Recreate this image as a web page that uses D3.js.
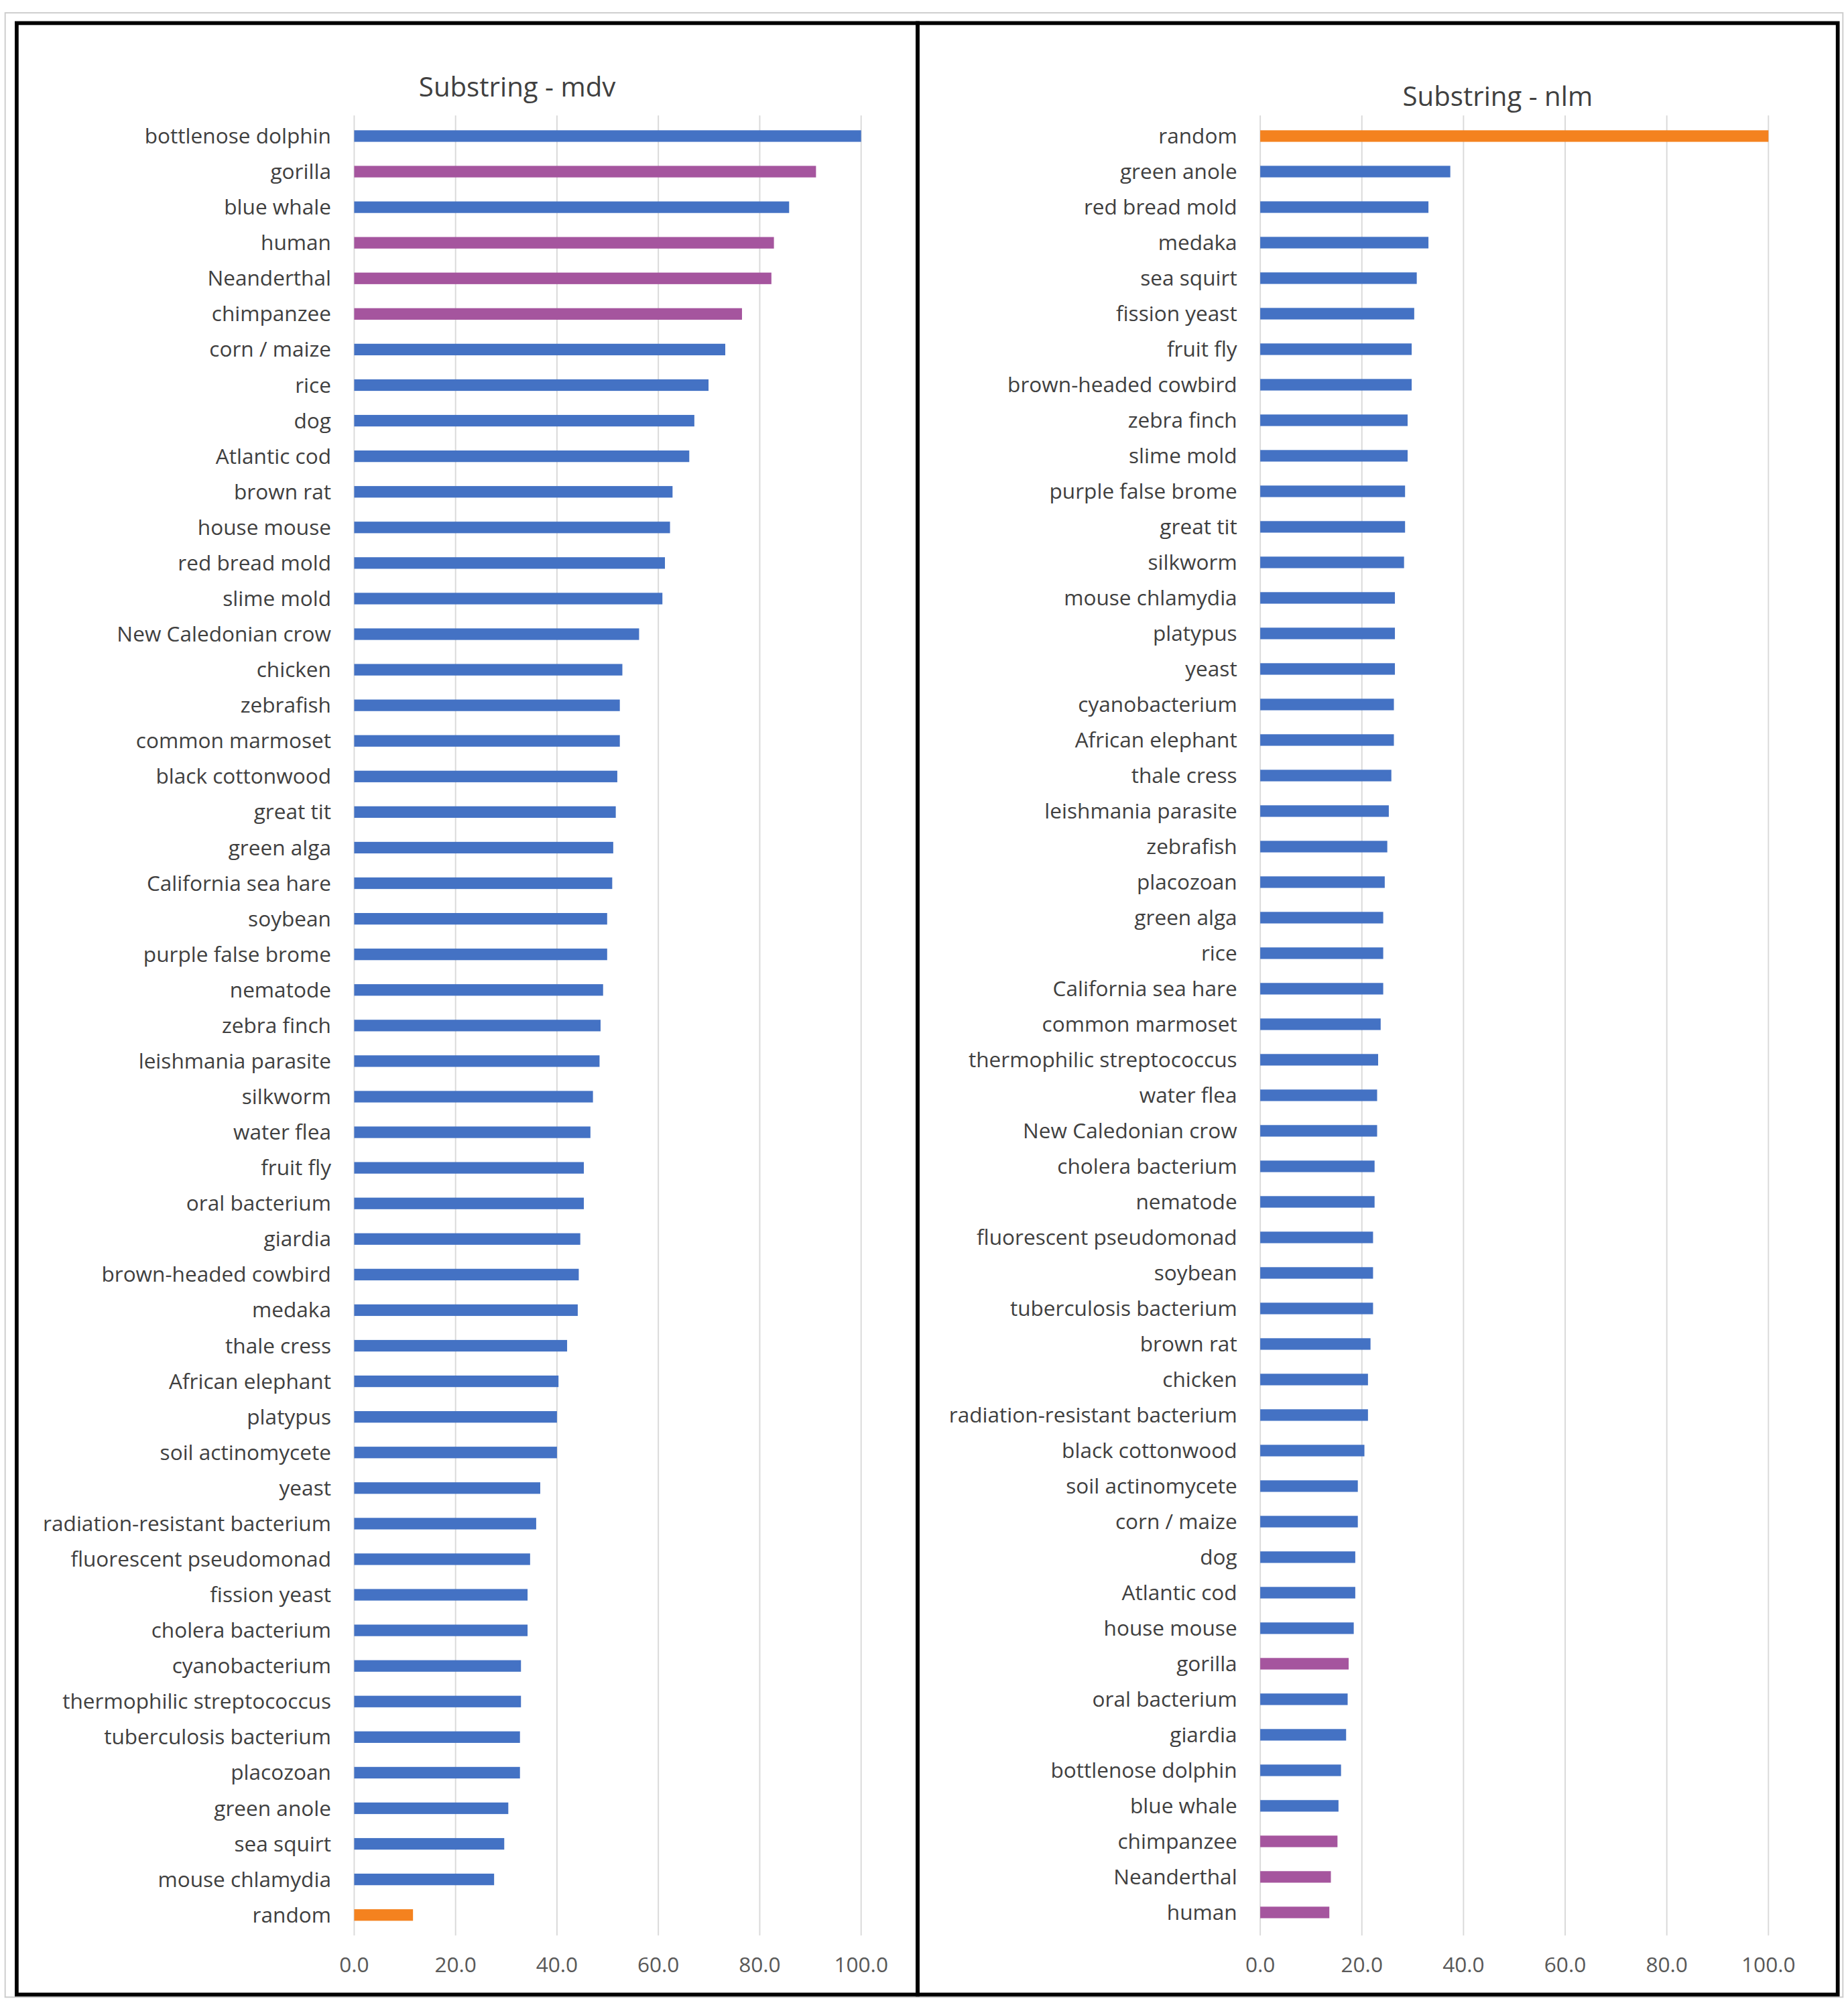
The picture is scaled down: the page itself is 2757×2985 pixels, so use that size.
<!DOCTYPE html>
<html><head><meta charset="utf-8">
<script src="https://cdn.jsdelivr.net/npm/d3@7"></script>
<style>body{margin:0;background:#fff}</style>
</head><body>
<script>
// left panel: Substring - mdv
var mdvNames = ["bottlenose dolphin","gorilla","blue whale","human","Neanderthal","chimpanzee","corn / maize","rice","dog","Atlantic cod","brown rat","house mouse","red bread mold","slime mold","New Caledonian crow","chicken","zebrafish","common marmoset","black cottonwood","great tit","green alga","California sea hare","soybean","purple false brome","nematode","zebra finch","leishmania parasite","silkworm","water flea","fruit fly","oral bacterium","giardia","brown-headed cowbird","medaka","thale cress","African elephant","platypus","soil actinomycete","yeast","radiation-resistant bacterium","fluorescent pseudomonad","fission yeast","cholera bacterium","cyanobacterium","thermophilic streptococcus","tuberculosis bacterium","placozoan","green anole","sea squirt","mouse chlamydia","random"];
var mdvValues = [100,91.1,85.8,82.8,82.3,76.5,73.2,69.9,67.1,66.1,62.8,62.3,61.3,60.8,56.2,52.9,52.4,52.4,51.9,51.6,51.1,50.9,49.9,49.9,49.1,48.6,48.4,47.1,46.6,45.3,45.3,44.6,44.3,44.1,42.0,40.3,40.0,40.0,36.7,35.9,34.7,34.2,34.2,32.9,32.9,32.7,32.7,30.4,29.6,27.6,11.6];
// right panel: Substring - nlm
var nlmNames = ["random","green anole","red bread mold","medaka","sea squirt","fission yeast","fruit fly","brown-headed cowbird","zebra finch","slime mold","purple false brome","great tit","silkworm","mouse chlamydia","platypus","yeast","cyanobacterium","African elephant","thale cress","leishmania parasite","zebrafish","placozoan","green alga","rice","California sea hare","common marmoset","thermophilic streptococcus","water flea","New Caledonian crow","cholera bacterium","nematode","fluorescent pseudomonad","soybean","tuberculosis bacterium","brown rat","chicken","radiation-resistant bacterium","black cottonwood","soil actinomycete","corn / maize","dog","Atlantic cod","house mouse","gorilla","oral bacterium","giardia","bottlenose dolphin","blue whale","chimpanzee","Neanderthal","human"];
var nlmValues = [100,37.4,33.1,33.1,30.8,30.3,29.8,29.8,29.0,29.0,28.5,28.5,28.3,26.5,26.5,26.5,26.3,26.3,25.8,25.3,25.0,24.5,24.2,24.2,24.2,23.7,23.2,23.0,23.0,22.5,22.5,22.2,22.2,22.2,21.7,21.2,21.2,20.5,19.2,19.2,18.7,18.7,18.4,17.4,17.2,16.9,15.9,15.4,15.2,13.9,13.6];
var ticks = [0,20,40,60,80,100];
var primates = ["gorilla","human","Neanderthal","chimpanzee"];

var svg = d3.select("body").append("svg")
  .attr("width",2757).attr("height",2985)
  .attr("viewBox","0 0 1440 1559").attr("preserveAspectRatio","none")
  .style("font-family","'Open Sans', 'Liberation Sans', sans-serif");

svg.append("rect").attr("x",4).attr("y",10).attr("width",1432).attr("height",1546)
  .attr("fill","none").attr("stroke","#ccc").attr("stroke-width",1);

function colorOf(n){
  if (n=="random") return "#f4821f";
  if (primates.indexOf(n)>=0) return "#a5559e";
  return "#4472c4";
}

function panel(x0, x1, title, titleX, titleY, names, values, top, bottom){
  var g = svg.append("g");
  var x = d3.scaleLinear().domain([0,100]).range([x0,x1]);
  var y = d3.scalePoint().domain(names).range([top,bottom]);
  g.selectAll("line.grid").data(ticks).join("line")
    .attr("x1",d=>x(d)).attr("x2",d=>x(d)).attr("y1",90).attr("y2",1508)
    .attr("stroke","#d9d9d9").attr("stroke-width",1);
  g.selectAll("rect.bar").data(names).join("rect")
    .attr("x",x(0)).attr("y",d=>y(d)-4.5)
    .attr("width",(d,i)=>x(values[i])-x(0)).attr("height",9)
    .attr("fill",colorOf);
  g.selectAll("text.lab").data(names).join("text")
    .attr("x",x(0)-18).attr("y",d=>y(d)).attr("dy","0.35em")
    .attr("text-anchor","end").attr("font-size",16.5).attr("fill","#404040")
    .text(d=>d);
  g.selectAll("text.tick").data(ticks).join("text")
    .attr("x",d=>x(d)).attr("y",1531).attr("dy","0.35em")
    .attr("text-anchor","middle").attr("font-size",16.5).attr("fill","#595959")
    .text(d=>d3.format(".1f")(d));
  g.append("text").attr("x",titleX).attr("y",titleY).attr("dy","0.35em")
    .attr("text-anchor","middle").attr("font-size",21).attr("fill","#404040").text(title);
}

panel(276, 671, "Substring - mdv", 403, 68, mdvNames, mdvValues, 106, 1492);
panel(982, 1378, "Substring - nlm", 1167, 75, nlmNames, nlmValues, 106, 1490);

svg.append("rect").attr("x",13).attr("y",18).attr("width",702).attr("height",1536)
  .attr("fill","none").attr("stroke","#000").attr("stroke-width",3);
svg.append("rect").attr("x",715).attr("y",18).attr("width",717).attr("height",1536)
  .attr("fill","none").attr("stroke","#000").attr("stroke-width",3);
</script>
</body></html>
